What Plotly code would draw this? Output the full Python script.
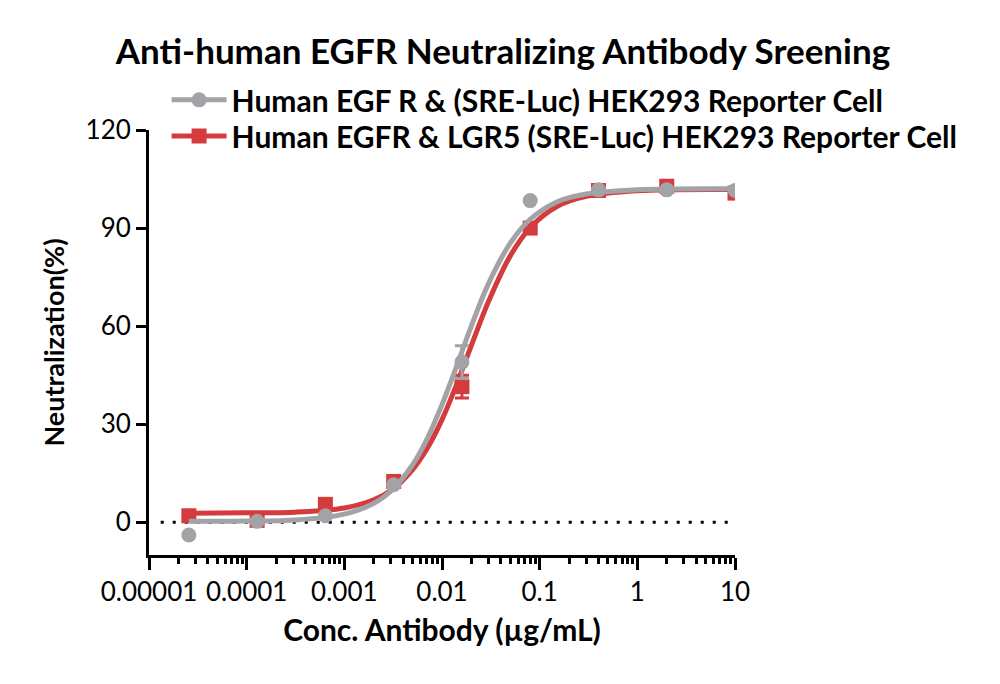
import plotly.graph_objects as go

# ---------------- data ----------------
conc = [10, 2, 0.4, 0.08, 0.016, 0.0032, 0.00064, 0.000128, 0.0000256]

egfr_y = [101.5, 101.7, 101.7, 98.4, 49.0, 11.5, 2.0, 0.3, -3.9]
egfr_err = [0, 0, 0, 0, 5.0, 0, 0, 0, 0]

lgr5_y = [100.7, 102.8, 101.5, 90.0, 41.5, 12.5, 5.5, 0.6, 2.0]
lgr5_err = [0, 0, 0, 0, 3.5, 0, 0, 0, 0]

# fitted curves
curve_x = [0.0000256, 0.0001, 0.000316, 0.001, 0.002, 0.00316, 0.005, 0.007,
           0.01, 0.014, 0.02, 0.03, 0.05, 0.08, 0.15, 0.3, 1, 10]
egfr_fit = [0.3, 0.4, 0.7, 2.5, 5.8, 10.2, 17.6, 25.4, 36.0, 47.5, 60.1, 73.1,
            85.4, 92.7, 98.0, 100.4, 101.7, 102.0]
lgr5_fit = [2.8, 2.9, 3.1, 4.4, 6.9, 10.2, 16.1, 22.4, 31.4, 41.9, 54.1, 67.6,
            81.5, 90.1, 96.6, 99.7, 101.4, 101.8]

x_tickvals = [0.00001, 0.0001, 0.001, 0.01, 0.1, 1, 10]
x_ticktext = ["0.00001", "0.0001", "0.001", "0.01", "0.1", "1", "10"]
y_tickvals = [0, 30, 60, 90, 120]

name_egfr = "Human EGF R & (SRE-Luc) HEK293 Reporter Cell"
name_lgr5 = "Human EGFR & LGR5 (SRE-Luc) HEK293 Reporter Cell"

GREY = "#A3A3A7"
RED = "#D33B3D"
FONT = "Lato"

fig = go.Figure()

# red series first (drawn beneath grey)
fig.add_trace(go.Scatter(x=curve_x, y=lgr5_fit, mode="lines",
                         line=dict(color=RED, width=5, shape="spline"),
                         showlegend=False, hoverinfo="skip"))
fig.add_trace(go.Scatter(x=conc, y=lgr5_y, mode="markers",
                         marker=dict(symbol="square", size=15, color=RED),
                         error_y=dict(type="data", array=lgr5_err, color=RED,
                                      thickness=3, width=7),
                         showlegend=False))
fig.add_trace(go.Scatter(x=curve_x, y=egfr_fit, mode="lines",
                         line=dict(color=GREY, width=5, shape="spline"),
                         showlegend=False, hoverinfo="skip"))
fig.add_trace(go.Scatter(x=conc, y=egfr_y, mode="markers",
                         marker=dict(symbol="circle", size=15, color=GREY),
                         error_y=dict(type="data", array=egfr_err, color=GREY,
                                      thickness=3, width=7),
                         showlegend=False))

# legend entries (one legend box per row)
fig.add_trace(go.Scatter(x=[None], y=[None], mode="lines+markers", name=name_egfr,
                         line=dict(color=GREY, width=5),
                         marker=dict(symbol="circle", size=15, color=GREY),
                         legend="legend"))
fig.add_trace(go.Scatter(x=[None], y=[None], mode="lines+markers", name=name_lgr5,
                         line=dict(color=RED, width=5),
                         marker=dict(symbol="square", size=15, color=RED),
                         legend="legend2"))

# dotted zero line
fig.add_shape(type="line", xref="x domain", yref="y", x0=0.02, x1=0.99, y0=0, y1=0,
              line=dict(color="black", width=3, dash="3px,9px"), layer="below")

legend_style = dict(xanchor="left", yanchor="middle",
                    font=dict(size=30, family=FONT, color="black", weight="bold"),
                    bgcolor="rgba(0,0,0,0)", itemwidth=55)

fig.update_layout(
    width=1000, height=684,
    margin=dict(l=149, r=265, t=130, b=129),
    paper_bgcolor="white", plot_bgcolor="white",
    font=dict(family=FONT, color="black"),
    title=dict(text="<b>Anti-human EGFR Neutralizing Antibody Sreening</b>",
               x=503 / 1000, xanchor="center", y=1 - 52 / 684, yanchor="middle",
               font=dict(size=35, family=FONT, color="black")),
    legend=dict(x=0.03, y=1.071, **legend_style),
    legend2=dict(x=0.03, y=0.986, **legend_style),
    showlegend=True,
)

fig.update_xaxes(type="log", range=[-5, 1],
                 tickvals=x_tickvals, ticktext=x_ticktext,
                 ticks="outside", ticklen=12, tickwidth=3, tickcolor="black",
                 showline=True, linewidth=3, linecolor="black",
                 showgrid=False, zeroline=False,
                 tickfont=dict(size=26, family=FONT, color="black"),
                 minor=dict(ticks="outside", ticklen=6, tickwidth=3,
                            tickcolor="black", dtick="D1", showgrid=False),
                 title=dict(text="<b>Conc. Antibody (µg/mL)</b>",
                            font=dict(size=30, family=FONT, color="black"),
                            standoff=14))
fig.update_yaxes(range=[-10, 120], tickvals=y_tickvals,
                 ticks="outside", ticklen=10, tickwidth=3, tickcolor="black",
                 showline=True, linewidth=3, linecolor="black",
                 showgrid=False, zeroline=False,
                 tickfont=dict(size=26, family=FONT, color="black"),
                 title=dict(text="<b>Neutralization(%)</b>",
                            font=dict(size=27, family=FONT, color="black"),
                            standoff=14))

fig.write_html("out.html")
